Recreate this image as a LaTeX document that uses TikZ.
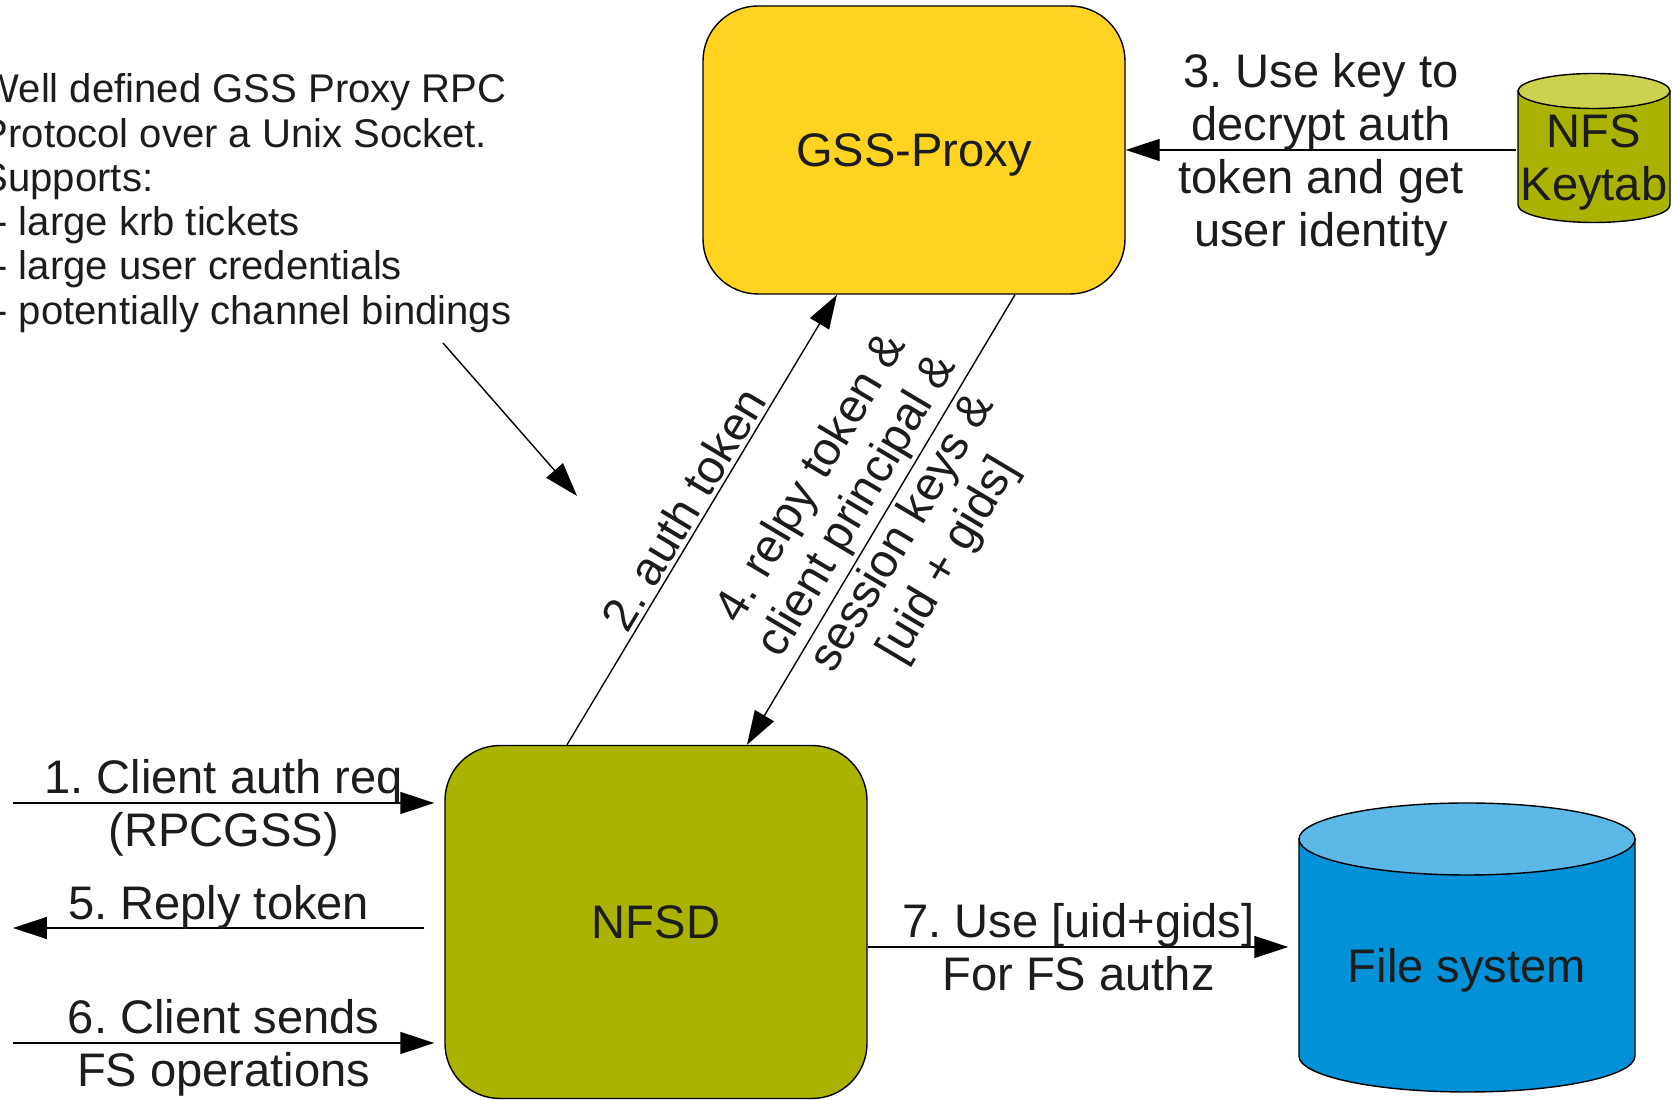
\documentclass[tikz,border=0pt]{standalone}
\usepackage{fontspec}
\setmainfont{Liberation Sans}
\usepackage{xcolor}
\usepackage{tikz}
\usetikzlibrary{positioning,calc,arrows.meta}

\definecolor{gssyellow}{RGB}{255,211,32}
\definecolor{nfsdgreen}{RGB}{170,180,0}
\definecolor{keytabtop}{RGB}{204,210,80}
\definecolor{fsblue}{RGB}{0,145,214}
\definecolor{fstop}{RGB}{92,184,230}
\definecolor{textgrey}{RGB}{28,28,28}

\begin{document}
\frenchspacing
\begin{tikzpicture}[x=0.1mm,y=-0.1mm,
    every node/.style={text=textgrey},
    box/.style={draw,line width=0.4pt,rounded corners=5.5mm,minimum width=42.2mm,inner sep=0pt,
        text height=12.1pt,text depth=2.8pt},
    flow/.style={line width=0.4pt,-{Triangle[length=3.4mm,width=2.2mm]}},
    big/.style={font=\fontsize{13.4}{15.1}\selectfont,align=center,inner sep=1pt},
    lbl/.style={big,yshift=-0.5mm},
    small/.style={font=\fontsize{11.4}{12.6}\selectfont,align=left,inner sep=0pt}]
    \useasboundingbox (0,0) rectangle (1672,1100);

    % Boxes
    \node[box,big,fill=gssyellow,minimum height=28.8mm] (gss) at (914,150) {GSS-Proxy};
    \node[box,big,fill=nfsdgreen,minimum height=35.3mm] (nfsd) at (656,922) {NFSD};

    % Keytab cylinder
    \draw[line width=0.4pt,fill=nfsdgreen] (1518,91) -- (1518,205) arc[start angle=180,end angle=360,x radius=7.6mm,y radius=1.75mm] -- (1670,91) -- cycle;
    \draw[line width=0.4pt,fill=keytabtop] (1594,91) ellipse[x radius=7.6mm,y radius=1.75mm];
    \node[big,minimum width=15.2mm] (keytab) at (1594,162) {NFS\\Keytab};

    % File system cylinder
    \draw[line width=0.4pt,fill=fsblue] (1299,839) -- (1299,1056) arc[start angle=180,end angle=360,x radius=16.8mm,y radius=3.6mm] -- (1635,839) -- cycle;
    \draw[line width=0.4pt,fill=fstop] (1467,839) ellipse[x radius=16.8mm,y radius=3.6mm];
    \node[big,minimum width=33.6mm] (fs) at (1467,970) {File system};

    % Note
    \node[small,anchor=north west] (note) at (-19,73) {Well defined GSS Proxy RPC\\Protocol over a Unix Socket.\\Supports:\\\hspace*{1.28mm}- large krb tickets\\\hspace*{1.28mm}- large user credentials\\\hspace*{1.28mm}- potentially channel bindings};

    % Arrows
    \coordinate (c1) at (13,803);
    \coordinate (c5) at (13,928);
    \coordinate (c6) at (13,1043);
    \coordinate (fsin) at ([yshift=2.3mm]fs.west);
    \coordinate (notefrom) at (443,343);
    \coordinate (noteto) at (577,496);

    \draw[flow,shorten >=1mm] (c1) -- (c1 -| nfsd.west) node[midway,lbl,xshift=-0.5mm] (l1) {1. Client auth req\\(RPCGSS)};
    \draw[flow] ([xshift=-8.9mm]nfsd.north) -- ([xshift=-7.7mm]gss.south) node[midway,sloped,above,big] (l2) {2. auth token};
    \draw[flow] (keytab.west |- gss.east) -- (gss.east) node[midway,lbl] (l3) {3. Use key to\\decrypt auth\\token and get\\user identity};
    \draw[flow] ([xshift=10.1mm]gss.south) -- ([xshift=9.1mm]nfsd.north) node[midway,sloped,big] (l4) {4. relpy token \&\\client principal \&\\session keys \&\\{[uid + gids]}};
    \draw[flow,shorten <=2mm] (c5 -| nfsd.west) -- (c5) node[midway,above,lbl,xshift=-1mm] (l5) {5. Reply token};
    \draw[flow,shorten >=1mm] (c6) -- (c6 -| nfsd.west) node[midway,lbl,xshift=-0.5mm] (l6) {6. Client sends\\FS operations};
    \draw[flow,shorten >=1mm] (nfsd.east |- fsin) -- (fsin) node[midway,big,xshift=-0.45mm] (l7) {7. Use [uid+gids]\\For FS authz};
    \draw[flow] (notefrom) -- (noteto);
\end{tikzpicture}
\end{document}
